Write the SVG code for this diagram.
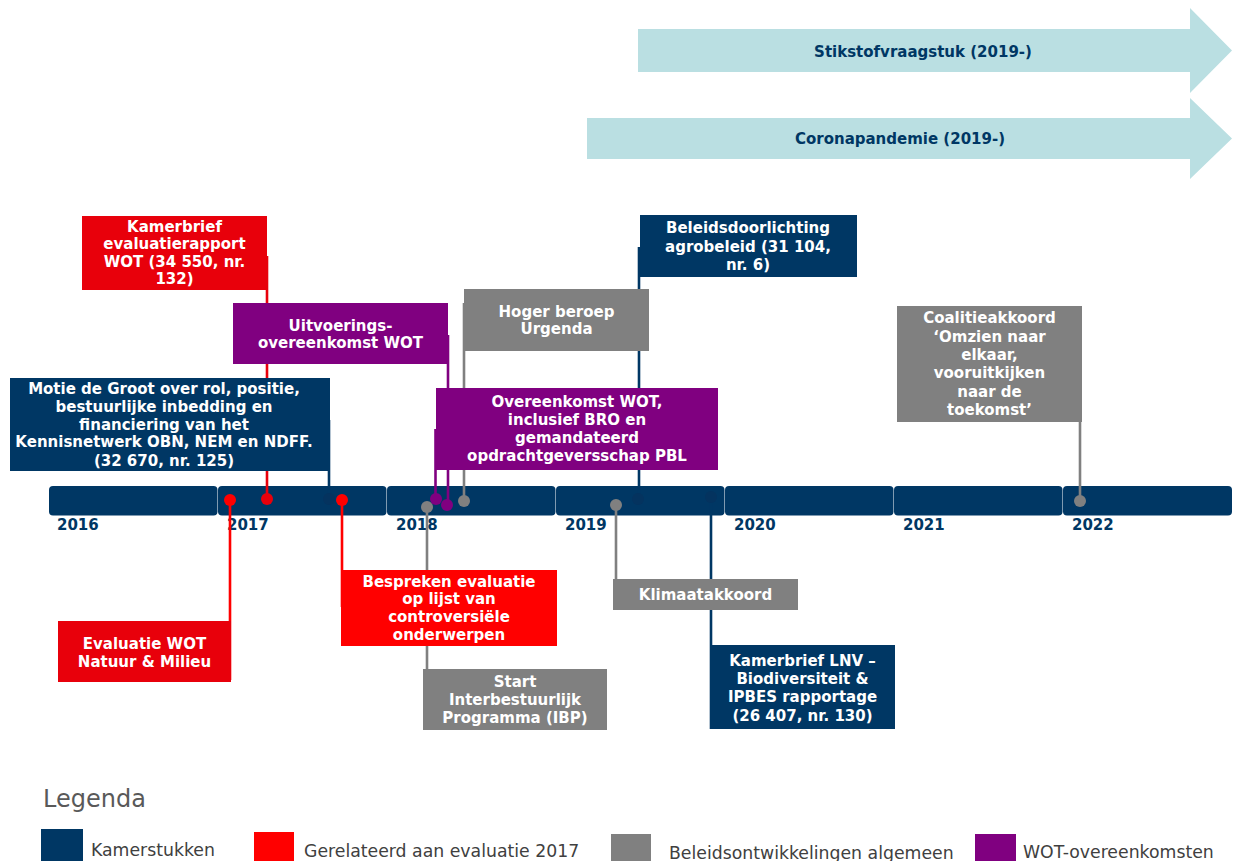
<svg xmlns="http://www.w3.org/2000/svg" width="1237" height="861" viewBox="0 0 1237 861">
<style>
.t{font-family:"DejaVu Sans",Verdana,sans-serif;font-weight:bold;font-size:15px;fill:#fff;text-anchor:middle}
.yr{font-family:"DejaVu Sans",Verdana,sans-serif;font-weight:bold;font-size:15px;fill:#003764}
.at{font-family:"DejaVu Sans",Verdana,sans-serif;font-weight:bold;font-size:15px;fill:#003764;text-anchor:middle}
.lg{font-family:"DejaVu Sans",Verdana,sans-serif;font-size:17.3px;fill:#404040}
.navy{fill:#003764}.red{fill:#ff0000}.dred{fill:#e8000b}.gray{fill:#808080}.purple{fill:#800080}
.ndot{fill:#04335f}
.seg{fill:#003764}
.ln{fill:none;stroke-width:2.6}
</style>
<rect width="1237" height="861" fill="#fff"/>

<g id="arrow-stikstof">
<polygon points="638,29 1190,29 1190,8 1232,50.5 1190,93 1190,72 638,72" fill="#badfe2"/>
<text class="at" x="923" y="57">Stikstofvraagstuk (2019-)</text>
</g>
<g id="arrow-corona">
<polygon points="587,118 1190,118 1190,98 1232,138.5 1190,179 1190,159 587,159" fill="#badfe2"/>
<text class="at" x="900" y="144">Coronapandemie (2019-)</text>
</g>

<g id="timeline">
<rect class="seg" x="49" y="486" width="168.5" height="29.5" rx="4"/>
<rect class="seg" x="218" y="486" width="168.5" height="29.5" rx="4"/>
<rect class="seg" x="387" y="486" width="168.5" height="29.5" rx="4"/>
<rect class="seg" x="556" y="486" width="168.5" height="29.5" rx="4"/>
<rect class="seg" x="725" y="486" width="168.5" height="29.5" rx="4"/>
<rect class="seg" x="894" y="486" width="168.5" height="29.5" rx="4"/>
<rect class="seg" x="1063" y="486" width="169" height="29.5" rx="4"/>
<text class="yr" x="57" y="530">2016</text>
<text class="yr" x="227" y="530">2017</text>
<text class="yr" x="396" y="530">2018</text>
<text class="yr" x="565" y="530">2019</text>
<text class="yr" x="734" y="530">2020</text>
<text class="yr" x="903" y="530">2021</text>
<text class="yr" x="1072" y="530">2022</text>
</g>

<g id="connectors">
<line class="ln" x1="267" y1="256" x2="267" y2="499" stroke="#e8000b"/>
<line class="ln" x1="329" y1="420" x2="329" y2="499" stroke="#003764" stroke-width="2"/>
<line class="ln" x1="448" y1="335" x2="448" y2="505" stroke="#800080"/>
<line class="ln" x1="435.5" y1="429" x2="435.5" y2="499" stroke="#800080"/>
<line class="ln" x1="464" y1="303" x2="464" y2="501" stroke="#808080"/>
<line class="ln" x1="639" y1="247" x2="639" y2="499" stroke="#003764" stroke-width="2"/>
<line class="ln" x1="1080" y1="420" x2="1080" y2="501" stroke="#808080"/>
<line class="ln" x1="230" y1="500" x2="230" y2="680" stroke="#ff0000"/>
<line class="ln" x1="342" y1="500" x2="342" y2="607" stroke="#ff0000"/>
<line class="ln" x1="427" y1="507" x2="427" y2="700" stroke="#808080"/>
<line class="ln" x1="616" y1="505" x2="616" y2="590" stroke="#808080"/>
<line class="ln" x1="711" y1="497" x2="711" y2="729" stroke="#003764" stroke-width="2"/>
<circle cx="230" cy="500" r="6" class="red"/>
<circle cx="267" cy="499" r="6" class="dred"/>
<circle cx="329" cy="499" r="6" class="ndot"/>
<circle cx="342" cy="500" r="6" class="red"/>
<circle cx="427" cy="507" r="6" class="gray"/>
<circle cx="436" cy="499" r="6" class="purple"/>
<circle cx="447" cy="505" r="6" class="purple"/>
<circle cx="464" cy="501" r="6" class="gray"/>
<circle cx="616" cy="505" r="6" class="gray"/>
<circle cx="638" cy="499" r="6" class="ndot"/>
<circle cx="711" cy="497" r="6" class="ndot"/>
<circle cx="1080" cy="501" r="6" class="gray"/>
</g>

<g id="kamerbrief-evaluatierapport">
<rect x="82" y="216" width="185" height="74" class="dred"/>
<text class="t" x="174.5" y="232">Kamerbrief</text>
<text class="t" x="174.5" y="249">evaluatierapport</text>
<text class="t" x="174.5" y="267">WOT (34 550, nr.</text>
<text class="t" x="174.5" y="284">132)</text>
</g>
<g id="uitvoeringsovereenkomst">
<rect x="233" y="303" width="215" height="61" class="purple"/>
<text class="t" x="340.5" y="331">Uitvoerings-</text>
<text class="t" x="340.5" y="348">overeenkomst WOT</text>
</g>
<g id="motie-de-groot">
<rect x="10" y="378" width="320" height="93" class="navy"/>
<text class="t" x="164" y="394">Motie de Groot over rol, positie,</text>
<text class="t" x="164" y="412">bestuurlijke inbedding en</text>
<text class="t" x="164" y="430">financiering van het</text>
<text class="t" x="164" y="447">Kennisnetwerk OBN, NEM en NDFF.</text>
<text class="t" x="164" y="466">(32 670, nr. 125)</text>
</g>
<g id="hoger-beroep">
<rect x="464" y="289" width="185" height="62" class="gray"/>
<text class="t" x="556.5" y="317">Hoger beroep</text>
<text class="t" x="556.5" y="334">Urgenda</text>
</g>
<g id="beleidsdoorlichting">
<rect x="640" y="215" width="217" height="62" class="navy"/>
<text class="t" x="748" y="233">Beleidsdoorlichting</text>
<text class="t" x="748" y="252">agrobeleid (31 104,</text>
<text class="t" x="748" y="270">nr. 6)</text>
</g>
<g id="overeenkomst-wot">
<rect x="436" y="388" width="282" height="82" class="purple"/>
<text class="t" x="577" y="407">Overeenkomst WOT,</text>
<text class="t" x="577" y="425">inclusief BRO en</text>
<text class="t" x="577" y="443">gemandateerd</text>
<text class="t" x="577" y="461">opdrachtgeversschap PBL</text>
</g>
<g id="coalitieakkoord">
<rect x="897" y="306" width="185" height="116" class="gray"/>
<text class="t" x="989.5" y="323">Coalitieakkoord</text>
<text class="t" x="989.5" y="342">‘Omzien naar</text>
<text class="t" x="989.5" y="360">elkaar,</text>
<text class="t" x="989.5" y="378">vooruitkijken</text>
<text class="t" x="989.5" y="397">naar de</text>
<text class="t" x="989.5" y="415">toekomst’</text>
</g>
<g id="evaluatie-wot">
<rect x="58" y="621" width="173" height="61" class="dred"/>
<text class="t" x="144.5" y="649">Evaluatie WOT</text>
<text class="t" x="144.5" y="667">Natuur &amp; Milieu</text>
</g>
<g id="bespreken-evaluatie">
<rect x="341" y="570" width="216" height="76" class="red"/>
<text class="t" x="449" y="587">Bespreken evaluatie</text>
<text class="t" x="449" y="604">op lijst van</text>
<text class="t" x="449" y="622">controversiële</text>
<text class="t" x="449" y="640">onderwerpen</text>
</g>
<g id="start-ibp">
<rect x="423" y="669" width="184" height="61" class="gray"/>
<text class="t" x="515" y="687">Start</text>
<text class="t" x="515" y="705">Interbestuurlijk</text>
<text class="t" x="515" y="723">Programma (IBP)</text>
</g>
<g id="klimaatakkoord">
<rect x="613" y="579" width="185" height="31" class="gray"/>
<text class="t" x="705.5" y="600">Klimaatakkoord</text>
</g>
<g id="kamerbrief-lnv">
<rect x="710" y="645" width="185" height="84" class="navy"/>
<text class="t" x="802.5" y="666">Kamerbrief LNV –</text>
<text class="t" x="802.5" y="684">Biodiversiteit &amp;</text>
<text class="t" x="802.5" y="702">IPBES rapportage</text>
<text class="t" x="802.5" y="721">(26 407, nr. 130)</text>
</g>

<g id="legend">
<text x="43" y="807" font-family="DejaVu Sans, Verdana, sans-serif" font-size="24" fill="#595959">Legenda</text>
<rect x="41" y="829" width="42" height="32" class="navy"/>
<text class="lg" x="91" y="856">Kamerstukken</text>
<rect x="254" y="832" width="40" height="29" class="red"/>
<text class="lg" x="304" y="857">Gerelateerd aan evaluatie 2017</text>
<rect x="611" y="834" width="40" height="27" class="gray"/>
<text class="lg" x="669" y="859">Beleidsontwikkelingen algemeen</text>
<rect x="975" y="834" width="41" height="27" class="purple"/>
<text class="lg" x="1023" y="858">WOT-overeenkomsten</text>
</g>
</svg>
